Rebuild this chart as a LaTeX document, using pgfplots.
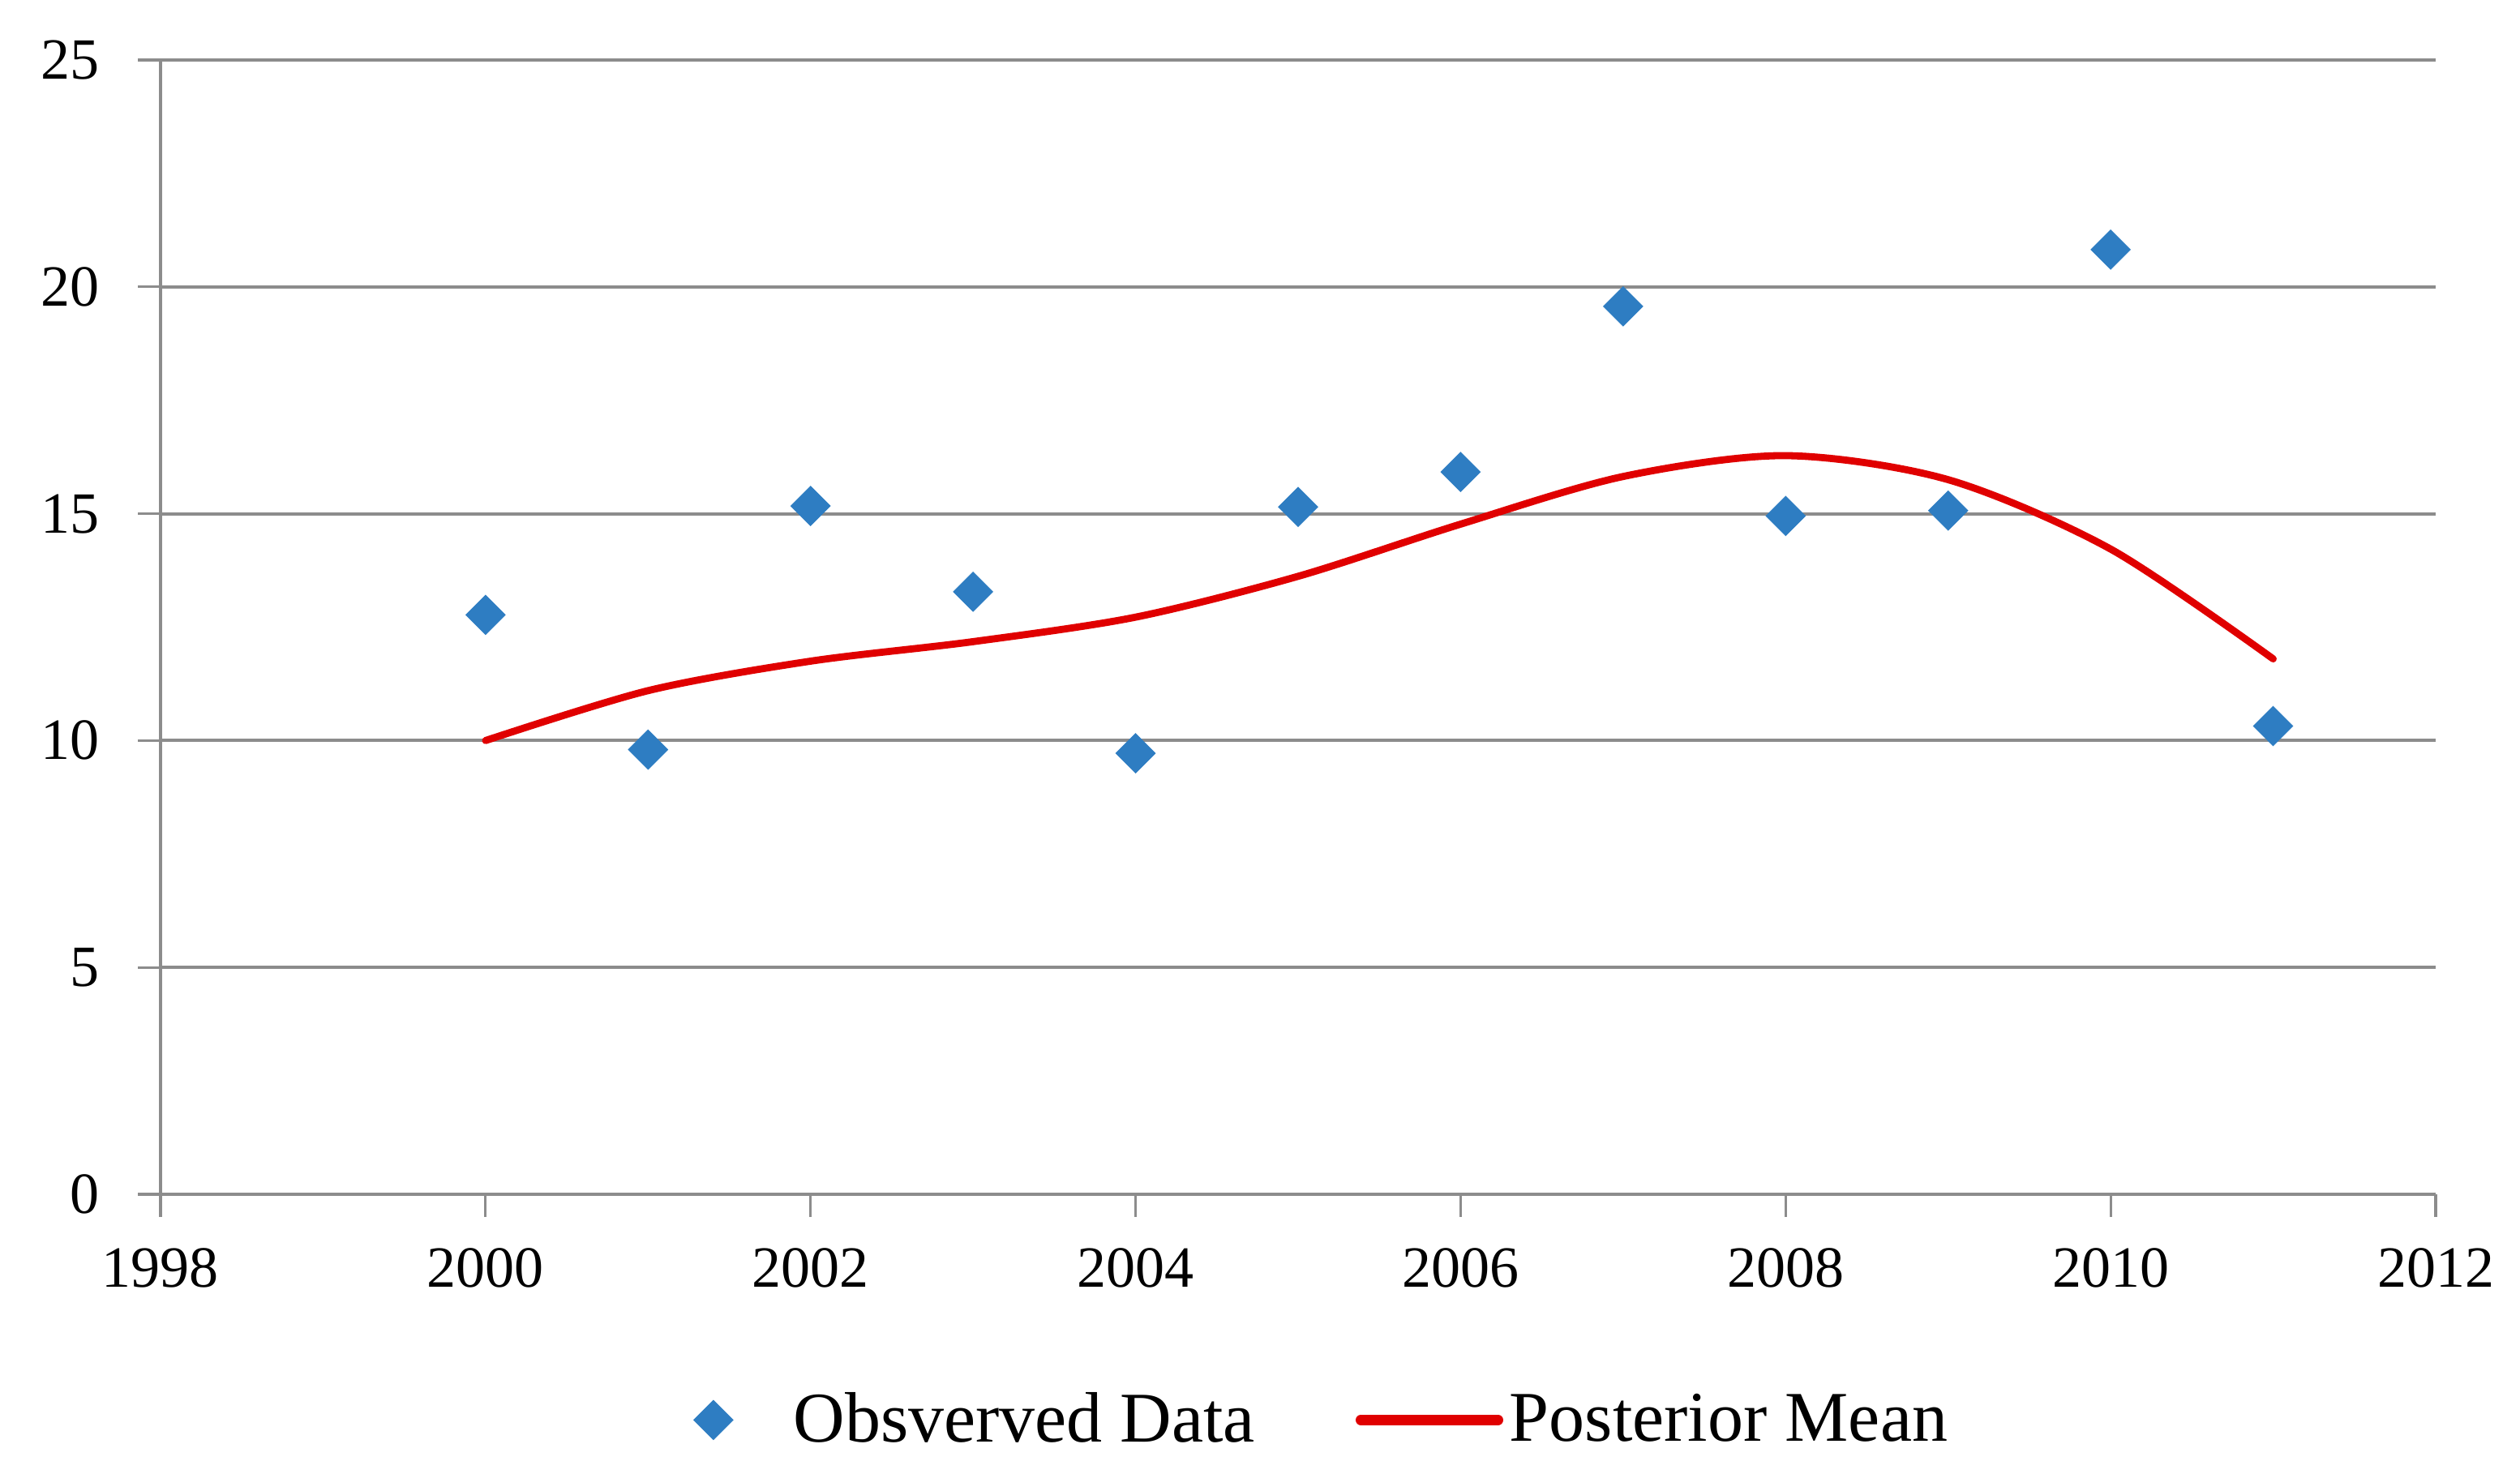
\documentclass[border=0pt]{standalone}
\usepackage{fontspec}
\setmainfont{Liberation Serif}
\usepackage{pgfplots}
\pgfplotsset{compat=1.18}
\definecolor{gridgray}{HTML}{8C8C8C}
\definecolor{dblue}{HTML}{2E7DC2}
\definecolor{lred}{HTML}{E00000}
\pgfplotsset{
  obsimg/.style={legend image code/.code={\path (0pt,0pt) (45pt,0pt); \draw[##1] plot coordinates {(22.5pt,0pt)};}},
  lineimg/.style={legend image code/.code={\draw[##1, line width=3.2pt, line cap=round] (1.6pt,0pt) -- (43.9pt,0pt);}},
}
\begin{document}
\begin{tikzpicture}
\path[use as bounding box] (-49.5pt,-86.25pt) rectangle (727.5pt,368.25pt);
\begin{axis}[
  scale only axis, width=701.5pt, height=349.75pt,
  xmin=1998, xmax=2012, ymin=0, ymax=25,
  xtick={1998,2000,...,2012}, ytick={0,5,...,25},
  axis lines*=left,
  axis line style={draw=gridgray, line width=1pt},
  ymajorgrids, grid style={draw=gridgray, line width=1pt},
  tick align=outside, major tick length=7pt,
  tick style={draw=gridgray, line width=0.8pt},
  /pgf/number format/assume math mode=true,
  /pgf/number format/1000 sep={},
  tick label style={font=\fontsize{18}{22}\selectfont, text=black},
  xticklabel style={yshift=-6pt},
  yticklabel style={xshift=-8.25pt},
  legend style={at={(axis description cs:0.4995,-0.199)}, anchor=center,
    draw=none, fill=none, legend columns=2,
    font=\fontsize{22}{26}\selectfont,
    /tikz/every even column/.append style={column sep=29pt}},
  legend cell align=left,
]
\addplot[only marks, mark=square*, mark size=4.2pt,
  mark options={rotate=45, draw=dblue, fill=dblue}, obsimg]
  coordinates {(2000,12.77) (2001,9.80) (2002,15.17) (2003,13.28) (2004,9.72) (2005,15.15)
               (2006,15.92) (2007,19.57) (2008,14.95) (2009,15.07) (2010,20.82) (2011,10.32)};
\addlegendentry{Obsverved Data}
\addplot[smooth, draw=lred, line width=2.2pt, line cap=round, lineimg]
  coordinates {(2000,10.00) (2001,11.10) (2002,11.75) (2003,12.18) (2004,12.72) (2005,13.62)
               (2006,14.77) (2007,15.82) (2008,16.28) (2009,15.75) (2010,14.22) (2011,11.80)};
\addlegendentry{Posterior Mean}
\end{axis}
\end{tikzpicture}
\end{document}
